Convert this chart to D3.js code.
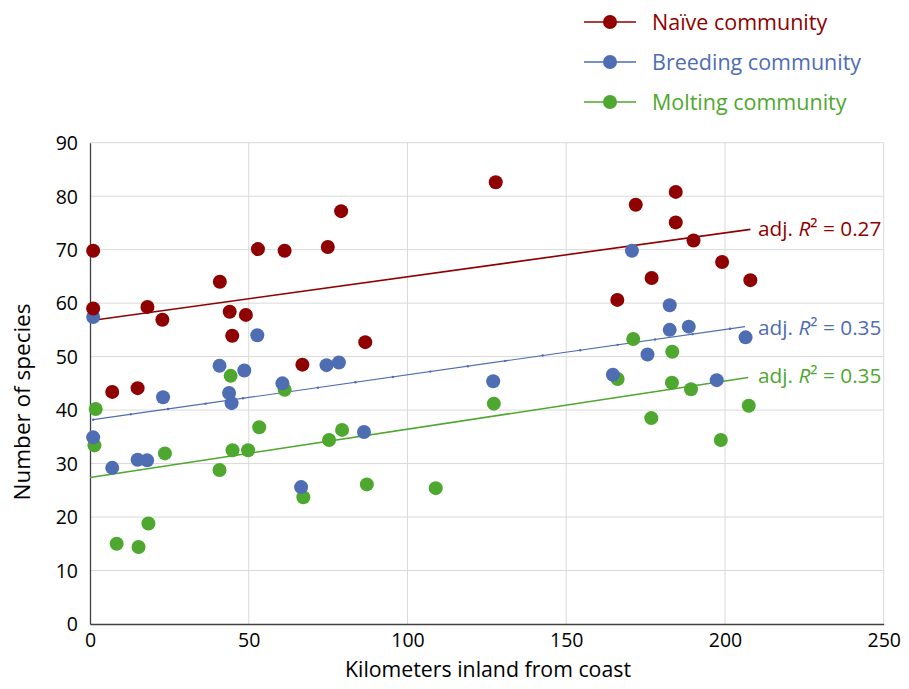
<!DOCTYPE html>
<html>
<head>
<meta charset="utf-8">
<script src="https://cdn.jsdelivr.net/npm/d3@7"></script>
<style>
  body { margin: 0; background: #fff; }
  svg { font-family: "Open Sans", "Noto Sans", sans-serif; }
</style>
</head>
<body>
<svg id="chart"></svg>
<script>
// km inland / number of species
const naiveKm = [1, 1, 7.0, 15.0, 18.1, 22.8, 40.9, 44.0, 44.8, 49.1, 52.9, 61.3, 66.9, 74.9, 79.1, 86.7, 127.8, 166.1, 171.9, 176.9, 184.5, 184.5, 190.1, 199.1, 208.0];
const naiveSp = [69.8, 59.0, 43.4, 44.1, 59.3, 56.9, 64.0, 58.4, 53.9, 57.8, 70.1, 69.8, 48.5, 70.5, 77.2, 52.7, 82.6, 60.6, 78.4, 64.7, 80.8, 75.1, 71.7, 67.7, 64.3];

const breedKm = [1, 1, 7.0, 15.0, 18.0, 23.0, 40.8, 43.8, 44.6, 48.6, 52.7, 60.6, 66.5, 74.5, 78.4, 86.3, 127.0, 164.7, 170.7, 175.6, 182.6, 182.6, 188.6, 197.4, 206.5];
const breedSp = [57.4, 34.9, 29.2, 30.7, 30.6, 42.4, 48.3, 43.2, 41.3, 47.4, 54.0, 45.0, 25.6, 48.4, 48.9, 35.9, 45.4, 46.6, 69.8, 50.4, 59.6, 55.0, 55.6, 45.6, 53.6];

const moltKm = [1.8, 1.4, 8.4, 15.3, 18.4, 23.6, 40.8, 44.3, 44.9, 49.8, 53.3, 61.3, 67.2, 75.3, 79.4, 87.2, 108.9, 127.2, 166.2, 171.1, 176.8, 183.4, 183.3, 189.3, 198.7, 207.5];
const moltSp = [40.2, 33.4, 15.0, 14.4, 18.8, 31.9, 28.8, 46.4, 32.5, 32.5, 36.8, 43.8, 23.7, 34.4, 36.3, 26.1, 25.4, 41.2, 45.8, 53.3, 38.5, 50.9, 45.1, 43.9, 34.4, 40.8];

// trend lines: [x start, y start, x end, y end]
const naiveTrend = [1, 56.8, 208, 73.8];
const breedTrend = [1, 38.2, 206.3, 55.6];
const moltTrend = [0, 27.4, 207.3, 46.1];

const seriesNames = ["Naïve community", "Breeding community", "Molting community"];
const seriesR2 = ["0.27", "0.35", "0.35"];
const xTicks = [0, 50, 100, 150, 200, 250];
const yTicks = [0, 10, 20, 30, 40, 50, 60, 70, 80, 90];

const colors = ["#8f0000", "#4e6db2", "#4ea72e"];

const width = 909, height = 689;

const svg = d3.select("#chart").attr("width", width).attr("height", height);

const x = d3.scaleLinear().domain([0, 250]).range([90, 883.7]);
const y = d3.scaleLinear().domain([0, 90]).range([624, 142.7]);

// grid
svg.append("g")
  .selectAll("line")
  .data(xTicks.slice(1))
  .join("line")
  .attr("x1", d => x(d)).attr("x2", d => x(d))
  .attr("y1", y(0)).attr("y2", y(90))
  .attr("stroke", "#d9d9d9").attr("stroke-width", 1);

svg.append("g")
  .selectAll("line")
  .data(yTicks.slice(1))
  .join("line")
  .attr("x1", x(0)).attr("x2", x(250))
  .attr("y1", d => y(d)).attr("y2", d => y(d))
  .attr("stroke", "#d9d9d9").attr("stroke-width", 1);

// axes
const xAxis = d3.axisBottom(x).tickValues(xTicks).tickSize(0).tickPadding(9);
const yAxis = d3.axisLeft(y).tickValues(yTicks).tickSize(0).tickPadding(12);

const gx = svg.append("g").attr("transform", `translate(0,${y(0)})`).call(xAxis);
const gy = svg.append("g").attr("transform", `translate(${x(0)},0)`).call(yAxis);
[gx, gy].forEach(g => {
  g.select(".domain").attr("stroke", "#404040").attr("stroke-width", 1.3);
  g.selectAll("text").attr("font-size", 19.5).attr("fill", "#000")
    .attr("font-family", "'Open Sans', sans-serif");
});
gx.selectAll("text").attr("dy", "0.71em");
gy.selectAll("text").attr("dy", "0.35em");

// axis titles
svg.append("text")
  .attr("x", 488)
  .attr("y", 677)
  .attr("text-anchor", "middle")
  .attr("font-size", 21.3)
  .text("Kilometers inland from coast");

svg.append("text")
  .attr("transform", "translate(30,402) rotate(-90)")
  .attr("text-anchor", "middle")
  .attr("font-size", 22.5)
  .text("Number of species");

const series = [
  { km: naiveKm, sp: naiveSp, trend: naiveTrend },
  { km: breedKm, sp: breedSp, trend: breedTrend },
  { km: moltKm, sp: moltSp, trend: moltTrend }
];

// trend lines
series.forEach((s, i) => {
  const t = s.trend;
  svg.append("line")
    .attr("x1", x(t[0])).attr("y1", y(t[1]))
    .attr("x2", x(t[2])).attr("y2", y(t[3]))
    .attr("stroke", colors[i])
    .attr("stroke-width", i === 1 ? 1.2 : 1.6);
});

// small markers along breeding trend
const bt = breedTrend;
const bScale = d3.scaleLinear().domain([bt[0], bt[2]]).range([bt[1], bt[3]]);
svg.append("g")
  .selectAll("circle")
  .data(d3.range(bt[0], bt[2], 11.8))
  .join("circle")
  .attr("cx", d => x(d)).attr("cy", d => y(bScale(d)))
  .attr("r", 1.2).attr("fill", colors[1]);

// points: molting, breeding, naive on top
[2, 1, 0].forEach(i => {
  const s = series[i];
  svg.append("g")
    .selectAll("circle")
    .data(d3.zip(s.km, s.sp))
    .join("circle")
    .attr("cx", d => x(d[0]))
    .attr("cy", d => y(d[1]))
    .attr("r", 7)
    .attr("fill", colors[i]);
});

// R2 labels
series.forEach((s, i) => {
  const t = s.trend;
  const yy = [y(t[3]) + 7, y(t[3]) + 8, y(t[3]) + 6][i];
  const lab = svg.append("text")
    .attr("x", 758).attr("y", yy)
    .attr("font-size", 20.8).attr("fill", colors[i]);
  lab.append("tspan").text("adj. ");
  lab.append("tspan").attr("font-style", "italic").text("R");
  lab.append("tspan").text("²");
  lab.append("tspan").text(" = " + seriesR2[i]);
});

// legend
const leg = svg.append("g").attr("transform", "translate(584,22)");
seriesNames.forEach((name, i) => {
  const g = leg.append("g").attr("transform", `translate(0,${i * 40})`);
  g.append("line").attr("x1", 0).attr("x2", 52).attr("y1", 0).attr("y2", 0)
    .attr("stroke", colors[i]).attr("stroke-width", 1.3);
  g.append("circle").attr("cx", 26).attr("cy", 0).attr("r", 7).attr("fill", colors[i]);
  g.append("text").attr("x", 68).attr("y", 0).attr("dy", "0.35em")
    .attr("font-size", 21.5).attr("fill", colors[i]).text(name);
});
</script>
</body>
</html>
